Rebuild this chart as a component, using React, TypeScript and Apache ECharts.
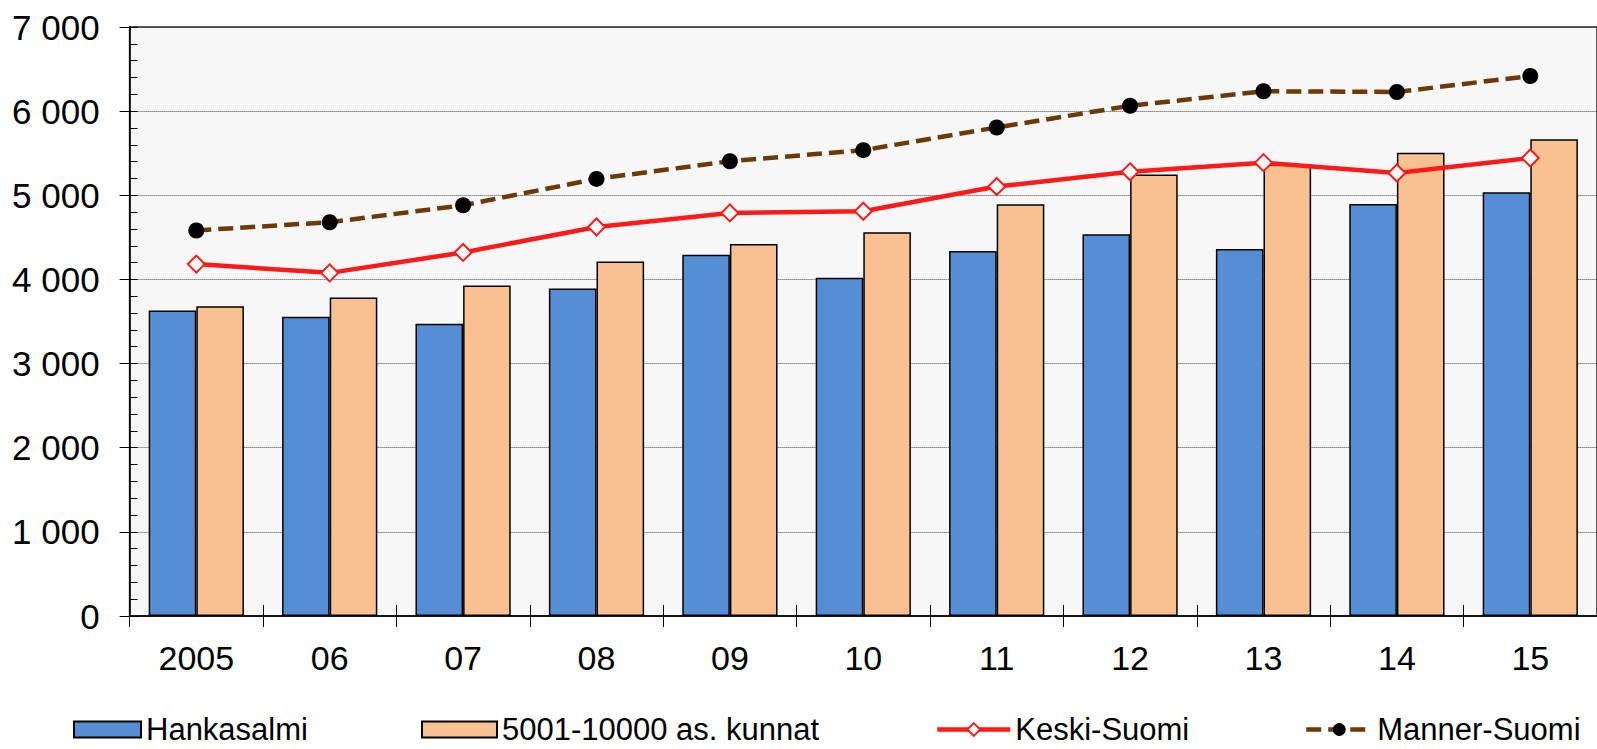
import React, { useEffect, useRef } from "react";
import * as echarts from "echarts";

const categories = ["2005", "06", "07", "08", "09", "10", "11", "12", "13", "14", "15"];
const hankasalmi = [3630, 3557, 3473, 3893, 4294, 4020, 4338, 4536, 4362, 4897, 5036];
const kunnat = [3682, 3785, 3929, 4214, 4421, 4560, 4893, 5246, 5368, 5507, 5665];
const keskiSuomi = [4182, 4078, 4321, 4624, 4790, 4810, 5104, 5279, 5388, 5265, 5443];
const mannerSuomi = [4582, 4680, 4881, 5195, 5405, 5536, 5806, 6064, 6236, 6228, 6418];
const yTicks = [0, 1000, 2000, 3000, 4000, 5000, 6000, 7000];

const FONT = "'Liberation Sans', Arial, sans-serif";

function fmt(v: number): string {
  const s = String(Math.round(v));
  return s.replace(/\B(?=(\d{3})+(?!\d))/g, " ");
}

export default function App() {
  const ref = useRef<HTMLDivElement>(null);
  useEffect(() => {
    document.body.style.margin = "0";
    if (!ref.current) return;
    const chart = echarts.init(ref.current, null, { renderer: "svg" });
    const legendBase = {
      top: 714,
      padding: 0,
      itemHeight: 16,
      textStyle: { fontFamily: FONT, fontSize: 31, lineHeight: 28, color: "#000" },
      selectedMode: false,
    };
    chart.setOption({
      animation: false,
      backgroundColor: "#fff",
      textStyle: { fontFamily: FONT },
      grid: {
        left: 129.6,
        top: 27,
        width: 1471,
        height: 589,
        show: true,
        backgroundColor: "#f7f7f7",
        borderColor: "#222",
        borderWidth: 1.5,
      },
      legend: [
        { ...legendBase, left: 73, itemWidth: 67, icon: "rect", data: ["Hankasalmi"] },
        { ...legendBase, left: 421, itemWidth: 75, icon: "rect", data: ["5001-10000 as. kunnat"] },
        {
          ...legendBase,
          left: 935,
          itemWidth: 73,
          lineStyle: { width: 4.5 },
          data: ["Keski-Suomi"],
        },
        {
          ...legendBase,
          left: 1304,
          itemWidth: 66,
          lineStyle: { width: 4.5 },
          data: ["Manner-Suomi"],
        },
      ],
      xAxis: [
        {
          type: "category",
          data: categories,
          position: "bottom",
          axisLine: { show: true, lineStyle: { color: "#000", width: 1.5 } },
          axisTick: { show: true, length: 11, lineStyle: { color: "#000", width: 1 } },
          axisLabel: { fontSize: 34, color: "#000", margin: 25, fontFamily: FONT },
          splitLine: { show: false },
        },
        {
          type: "category",
          data: categories,
          position: "bottom",
          offset: 0,
          axisLine: { show: false },
          axisTick: { show: true, inside: true, length: 11, lineStyle: { color: "#000", width: 1 } },
          axisLabel: { show: false },
          splitLine: { show: false },
        },
      ],
      yAxis: [
        {
          type: "value",
          min: yTicks[0],
          max: yTicks[yTicks.length - 1],
          interval: 1000,
          position: "left",
          axisLine: { show: true, lineStyle: { color: "#000", width: 1.5 } },
          axisTick: { show: true, length: 10, lineStyle: { color: "#000", width: 1 } },
          axisLabel: {
            fontSize: 35,
            color: "#000",
            margin: 30,
            fontFamily: FONT,
            formatter: (v: number) => fmt(v),
          },
          splitLine: { show: true, lineStyle: { type: "dotted", color: "#444", width: 1 } },
        },
        {
          type: "value",
          min: 0,
          max: 7000,
          interval: 200,
          position: "left",
          offset: 0,
          axisLine: { show: false },
          axisTick: { show: true, inside: true, length: 8, lineStyle: { color: "#000", width: 1 } },
          axisLabel: { show: false },
          splitLine: { show: false },
        },
      ],
      series: [
        {
          name: "Hankasalmi",
          type: "bar",
          data: hankasalmi,
          barGap: "0%",
          barCategoryGap: "28.6%",
          itemStyle: { color: "#558ed5", borderColor: "#000", borderWidth: 1.5 },
        },
        {
          name: "5001-10000 as. kunnat",
          type: "bar",
          data: kunnat,
          barGap: "0%",
          barCategoryGap: "28.6%",
          itemStyle: { color: "#f9c191", borderColor: "#000", borderWidth: 1.5 },
        },
        {
          name: "Keski-Suomi",
          type: "line",
          data: keskiSuomi,
          symbol: "diamond",
          symbolSize: 17,
          showAllSymbol: true,
          lineStyle: { color: "#ff1a1a", width: 4.5 },
          itemStyle: { color: "#fff", borderColor: "#ff1a1a", borderWidth: 2 },
          z: 5,
        },
        {
          name: "Manner-Suomi",
          type: "line",
          data: mannerSuomi,
          symbol: "circle",
          symbolSize: 16,
          showAllSymbol: true,
          lineStyle: { color: "#6b3a07", width: 4.5, type: [15, 7] },
          itemStyle: { color: "#000", borderColor: "#000", borderWidth: 0 },
          z: 5,
        },
      ],
    });
    return () => chart.dispose();
  }, []);
  return <div ref={ref} style={{ width: 1597, height: 749 }} />;
}
